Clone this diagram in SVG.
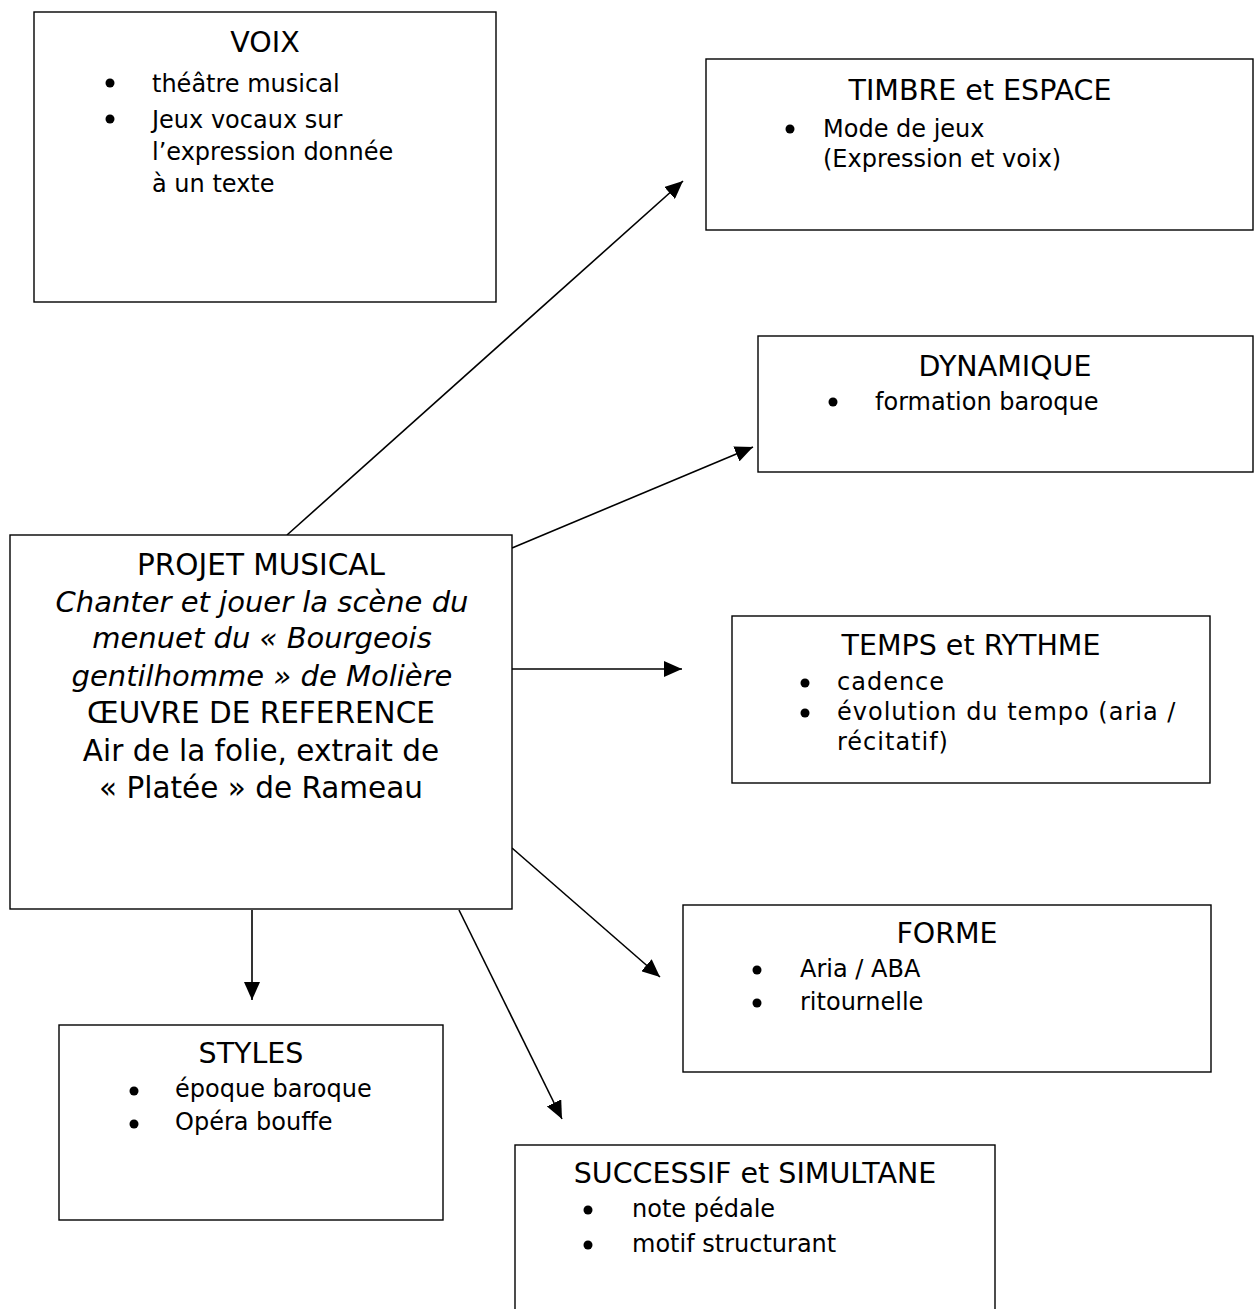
<svg xmlns="http://www.w3.org/2000/svg" width="1256" height="1309" viewBox="0 0 1256 1309">
<defs>
<marker id="ah" markerUnits="userSpaceOnUse" markerWidth="20" markerHeight="16" refX="18" refY="8" orient="auto">
<path d="M0,0 L18,8 L0,16 Z" fill="#000"/>
</marker>
<style>
.box{fill:#fff;stroke:#000;stroke-width:1.4}
.t{font-family:"DejaVu Sans",sans-serif;fill:#000}
.ttl{font-size:28.5px;text-anchor:middle}
.bd{font-size:24px}
.wide{letter-spacing:1px}
.c{font-size:29.5px;text-anchor:middle}
.it{font-style:italic;font-size:29px}
.bul{fill:#000}
.cn{stroke:#000;stroke-width:1.6;fill:none;marker-end:url(#ah)}
</style>
</defs>
<rect width="1256" height="1309" fill="#fff"/>

<g id="connectors">
<line class="cn" x1="287" y1="535" x2="683" y2="181"/>
<line class="cn" x1="512" y1="548" x2="753" y2="447"/>
<line class="cn" x1="512" y1="669" x2="682" y2="669"/>
<line class="cn" x1="512" y1="848" x2="660" y2="977"/>
<line class="cn" x1="459" y1="910" x2="562" y2="1119"/>
<line class="cn" x1="252" y1="910" x2="252" y2="1000"/>
</g>

<g id="voix">
<rect class="box" x="34" y="12" width="462" height="290"/>
<text class="t ttl" x="265" y="52">VOIX</text>
<circle class="bul" cx="110" cy="83" r="4.5"/>
<circle class="bul" cx="110" cy="119" r="4.5"/>
<text class="t bd" x="152" y="92">théâtre musical</text>
<text class="t bd" x="152" y="128">Jeux vocaux sur</text>
<text class="t bd" x="152" y="160">l’expression donnée</text>
<text class="t bd" x="152" y="192">à un texte</text>
</g>

<g id="timbre">
<rect class="box" x="706" y="59" width="547" height="171"/>
<text class="t ttl" x="980" y="100">TIMBRE et ESPACE</text>
<circle class="bul" cx="790" cy="129" r="4.5"/>
<text class="t bd" x="823" y="137">Mode de jeux</text>
<text class="t bd" x="823" y="167">(Expression et voix)</text>
</g>

<g id="dynamique">
<rect class="box" x="758" y="336" width="495" height="136"/>
<text class="t ttl" x="1005" y="376">DYNAMIQUE</text>
<circle class="bul" cx="833" cy="402" r="4.5"/>
<text class="t bd" x="875" y="410">formation baroque</text>
</g>

<g id="projet">
<rect class="box" x="10" y="535" width="502" height="374"/>
<text class="t c" x="261" y="575">PROJET MUSICAL</text>
<text class="t c it" x="262" y="612">Chanter et jouer la scène du</text>
<text class="t c it" x="262" y="648">menuet du « Bourgeois</text>
<text class="t c it" x="262" y="686">gentilhomme » de Molière</text>
<text class="t c" x="261" y="723">ŒUVRE DE REFERENCE</text>
<text class="t c" x="261" y="761">Air de la folie, extrait de</text>
<text class="t c" x="261" y="798">« Platée » de Rameau</text>
</g>

<g id="temps">
<rect class="box" x="732" y="616" width="478" height="167"/>
<text class="t ttl" x="971" y="655">TEMPS et RYTHME</text>
<circle class="bul" cx="805" cy="683" r="4.5"/>
<circle class="bul" cx="805" cy="713" r="4.5"/>
<text class="t bd wide" x="837" y="690">cadence</text>
<text class="t bd wide" x="837" y="720">évolution du tempo (aria /</text>
<text class="t bd wide" x="837" y="750">récitatif)</text>
</g>

<g id="forme">
<rect class="box" x="683" y="905" width="528" height="167"/>
<text class="t ttl" x="947" y="943">FORME</text>
<circle class="bul" cx="757" cy="970" r="4.5"/>
<circle class="bul" cx="757" cy="1003" r="4.5"/>
<text class="t bd" x="800" y="977">Aria / ABA</text>
<text class="t bd" x="800" y="1010">ritournelle</text>
</g>

<g id="styles">
<rect class="box" x="59" y="1025" width="384" height="195"/>
<text class="t ttl" x="251" y="1063">STYLES</text>
<circle class="bul" cx="134" cy="1091" r="4.5"/>
<circle class="bul" cx="134" cy="1124" r="4.5"/>
<text class="t bd" x="175" y="1097">époque baroque</text>
<text class="t bd" x="175" y="1130">Opéra bouffe</text>
</g>

<g id="successif">
<rect class="box" x="515" y="1145" width="480" height="190"/>
<text class="t ttl" x="755" y="1183">SUCCESSIF et SIMULTANE</text>
<circle class="bul" cx="588" cy="1210" r="4.5"/>
<circle class="bul" cx="588" cy="1245" r="4.5"/>
<text class="t bd" x="632" y="1217">note pédale</text>
<text class="t bd" x="632" y="1252">motif structurant</text>
</g>
</svg>
